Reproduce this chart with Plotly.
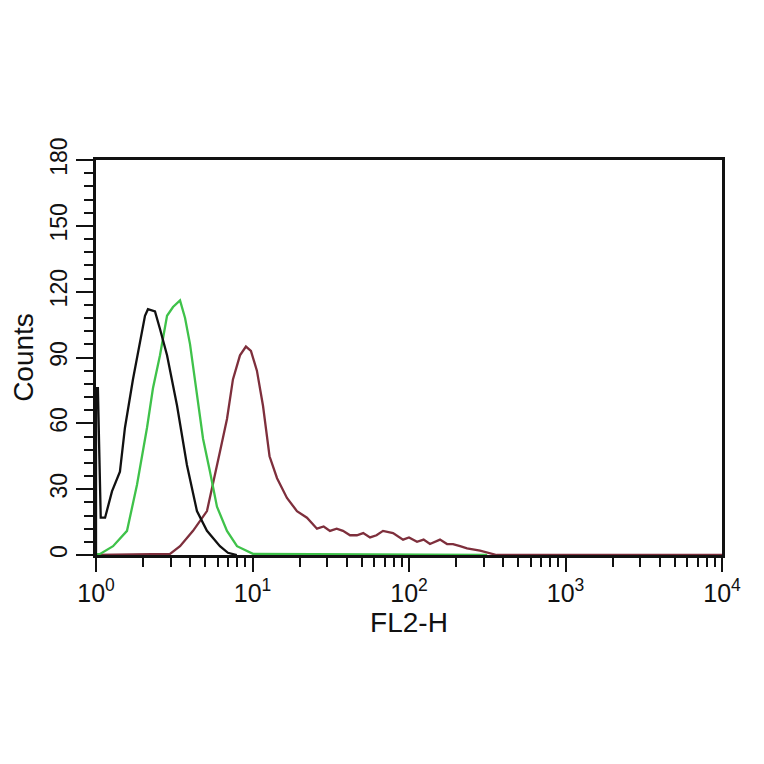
import plotly.graph_objects as go

# FL2-H channel values (linear units) and counts for each histogram
black_x = [1.0, 1.0, 1.028, 1.072, 1.143, 1.265, 1.422, 1.531, 1.722, 1.910, 2.056, 2.148,
           2.382, 2.564, 2.844, 3.296, 3.811, 4.416, 5.117, 6.194, 6.966, 7.943]
black_y = [0, 76, 76, 17, 17, 29, 38, 58, 80, 96, 109, 112,
           111, 103, 91, 68, 41, 20, 11, 4, 1, 0]

green_x = [1.0, 1.062, 1.285, 1.578, 1.828, 2.118, 2.312, 2.564, 2.844, 3.105, 3.443, 3.707,
           3.990, 4.416, 4.831, 5.346, 5.929, 6.871, 7.962, 10.07, 316.0]
green_y = [0.3, 0.5, 4, 11, 32, 58, 76, 91, 109, 113, 116, 108,
           96, 73, 53, 38, 22, 11, 4, 0.5, 0]

red_x = [1.0, 2.972, 3.443, 4.169, 5.117, 5.598, 6.194, 6.871, 7.499, 8.318, 9.078, 9.772,
         10.67, 11.67, 12.85, 14.35, 16.60, 19.23, 22.28, 25.82, 28.5, 31.26, 34.5, 37.84, 42.0,
         46.45, 51.0, 56.36, 62.0, 68.23, 79.07, 91.62, 100.0, 112.5, 124.0, 136.1, 157.8, 175.0,
         191.0, 212.0, 235.0, 284.4, 319.9, 363.1, 10000.0]
red_y = [0, 0.5, 4, 11, 20, 32, 47, 62, 80, 91, 95, 93,
         84, 68, 45, 35, 26, 20, 17, 12, 13, 11, 12, 11, 9,
         9, 10, 8, 9, 11, 10, 7, 8, 6, 7, 5, 7, 5,
         5, 4, 3, 2, 1, 0, 0]

x_tickvals = [1, 10, 100, 1000, 10000]
x_ticktext = ["10<sup>0</sup>", "10<sup>1</sup>", "10<sup>2</sup>", "10<sup>3</sup>", "10<sup>4</sup>"]
x_minor = [m * d for d in [1, 10, 100, 1000] for m in range(2, 10)]
y_tickvals = [0, 30, 60, 90, 120, 150, 180]

fig = go.Figure()
fig.add_trace(go.Scatter(x=red_x, y=red_y, mode="lines",
                         line=dict(color="#7e2f3c", width=2.3)))
fig.add_trace(go.Scatter(x=green_x, y=green_y, mode="lines",
                         line=dict(color="#3fc24a", width=2.3)))
fig.add_trace(go.Scatter(x=black_x, y=black_y, mode="lines",
                         line=dict(color="#111111", width=2.3)))

font_family = "Liberation Sans, Arial, sans-serif"
# the page body adds an 8px offset, so margins are shifted to compensate
fig.update_layout(
    width=764, height=764,
    margin=dict(l=88, r=50, t=152, b=217),
    plot_bgcolor="white", paper_bgcolor="white",
    showlegend=False,
    font=dict(family=font_family, color="#111111", size=24),
    xaxis=dict(
        type="log", range=[0, 4], automargin=False,
        tickmode="array", tickvals=x_tickvals, ticktext=x_ticktext,
        ticks="outside", ticklen=14, tickwidth=2, tickcolor="#111111",
        showline=True, linewidth=2.5, linecolor="#111111", mirror=True,
        showgrid=False, zeroline=False,
        tickfont=dict(family=font_family, size=25, color="#111111"),
        minor=dict(tickvals=x_minor, ticks="outside", ticklen=9, tickwidth=2,
                   tickcolor="#111111", showgrid=False),
        title=dict(text="FL2-H", font=dict(family=font_family, size=28), standoff=2),
    ),
    yaxis=dict(
        range=[0, 180], automargin=False,
        tickmode="array", tickvals=y_tickvals,
        tickangle=-90,
        ticks="outside", ticklen=17, tickwidth=2, tickcolor="#111111",
        showline=True, linewidth=2.5, linecolor="#111111", mirror=True,
        showgrid=False, zeroline=False,
        tickfont=dict(family=font_family, size=23, color="#111111"),
        minor=dict(dtick=6, tick0=0, ticks="outside", ticklen=9, tickwidth=2,
                   tickcolor="#111111", showgrid=False),
        title=dict(text="Counts", font=dict(family=font_family, size=28), standoff=6),
    ),
)

fig.write_html("out.html")
